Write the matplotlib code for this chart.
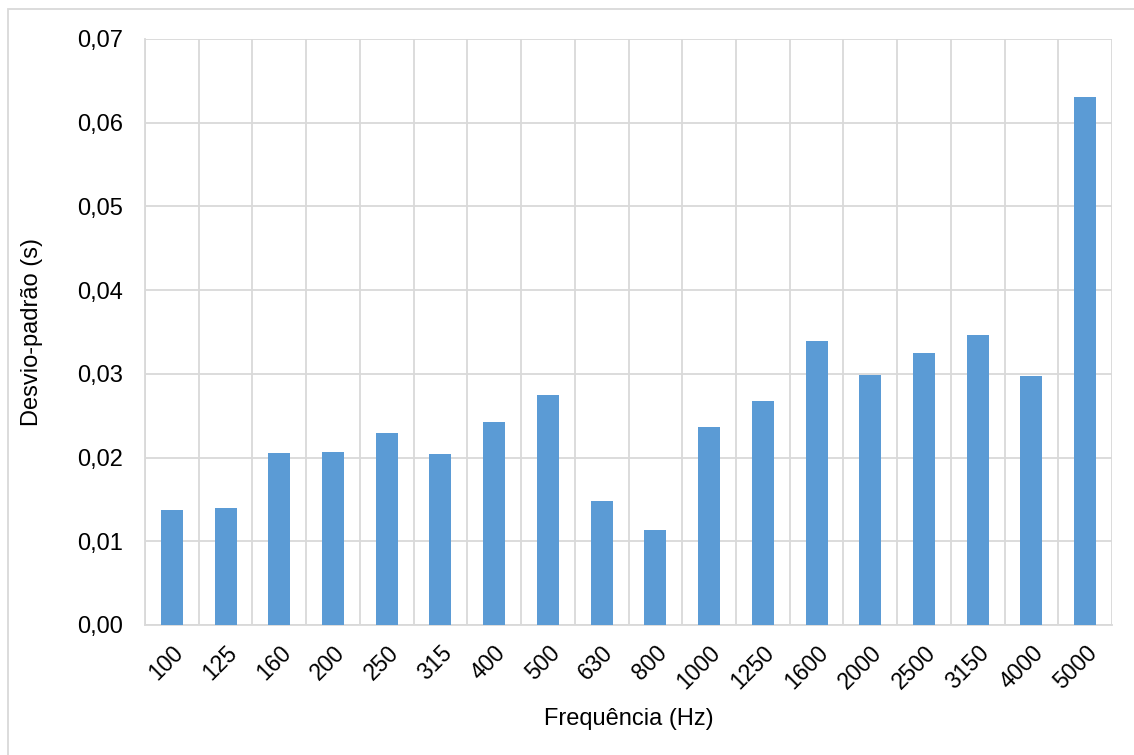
import numpy as np
import matplotlib
matplotlib.use("Agg")
import matplotlib.pyplot as plt
from matplotlib.patches import Rectangle

freqs = ["100", "125", "160", "200", "250", "315", "400", "500", "630", "800",
         "1000", "1250", "1600", "2000", "2500", "3150", "4000", "5000"]
std_dev = [0.0137, 0.0140, 0.0206, 0.0207, 0.0229, 0.0204, 0.0243, 0.0275, 0.0148,
           0.0113, 0.0237, 0.0268, 0.0339, 0.0299, 0.0325, 0.0346, 0.0298, 0.0631]
y_ticks = [0.0, 0.01, 0.02, 0.03, 0.04, 0.05, 0.06, 0.07]

plt.rcParams["font.family"] = ["Liberation Sans", "DejaVu Sans"]
grid_c = "#d9d9d9"

fig = plt.figure(figsize=(11.34, 7.55), dpi=100)
ax = fig.add_axes([145 / 1134, 1 - 625 / 755, (1112 - 145) / 1134, (625 - 39) / 755])

x = np.arange(len(freqs))
ax.bar(x, std_dev, width=0.41, color="#5b9bd5", zorder=3)

ax.set_xlim(-0.5, len(freqs) - 0.5)
ax.set_ylim(0, 0.07)
ax.set_yticks(y_ticks)
ax.set_yticklabels([f"{v:.2f}".replace(".", ",") for v in y_ticks], fontsize=17)
ax.set_xticks(x)
ax.set_xticklabels(freqs, rotation=45, ha="right", va="top", rotation_mode="anchor", fontsize=16.5)
ax.set_xticks(np.arange(-0.5, len(freqs), 1.0), minor=True)
ax.tick_params(axis="both", which="both", length=0)
ax.tick_params(axis="x", pad=12)
ax.tick_params(axis="y", pad=16)
ax.grid(axis="y", which="major", color=grid_c, lw=1.3, zorder=0)
ax.grid(axis="x", which="minor", color=grid_c, lw=1.3, zorder=0)
ax.grid(axis="x", which="major", visible=False)
for s in ["top", "right"]:
    ax.spines[s].set_visible(False)
for s in ["left", "bottom"]:
    ax.spines[s].set_color(grid_c)
    ax.spines[s].set_linewidth(1.3)

ax.set_xlabel("Frequência (Hz)", fontsize=17, labelpad=10)
ax.set_ylabel("Desvio-padrão (s)", fontsize=17, labelpad=24)

fig.patches.append(Rectangle((8 / 1134, -0.01), 1.0, 1 - 9 / 755 + 0.01, transform=fig.transFigure,
                             fill=False, edgecolor=grid_c, lw=1.3))

fig.savefig("out.png", dpi=100)
